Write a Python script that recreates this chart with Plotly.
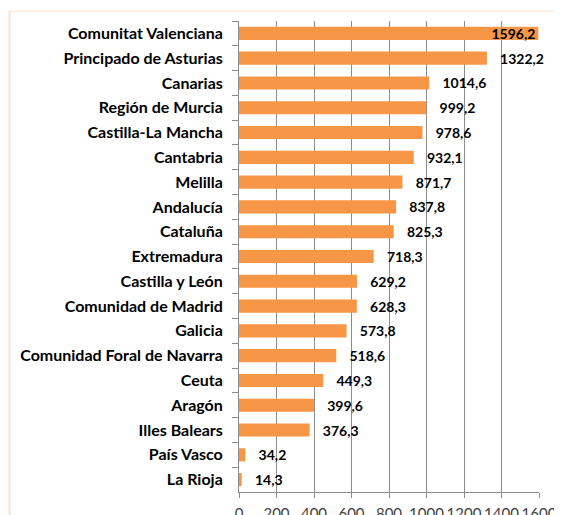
import plotly.graph_objects as go

# datos (de arriba a abajo)
regiones = ["Comunitat Valenciana", "Principado de Asturias", "Canarias", "Región de Murcia",
            "Castilla-La Mancha", "Cantabria", "Melilla", "Andalucía", "Cataluña", "Extremadura",
            "Castilla y León", "Comunidad de Madrid", "Galicia", "Comunidad Foral de Navarra",
            "Ceuta", "Aragón", "Illes Balears", "País Vasco", "La Rioja"]
valores = [1596.2, 1322.2, 1014.6, 999.2, 978.6, 932.1, 871.7, 837.8, 825.3, 718.3,
           629.2, 628.3, 573.8, 518.6, 449.3, 399.6, 376.3, 34.2, 14.3]
ticks_x = [0, 200, 400, 600, 800, 1000, 1200, 1400, 1600]

fuente = "Lato"

etiquetas = []
for v in valores:
    s = f"{v:.1f}".replace(".", ",")
    etiquetas.append(s if v > 1500 else "\u00a0\u00a0\u00a0" + s)

fig = go.Figure()
fig.add_trace(go.Bar(
    x=valores,
    y=regiones,
    orientation="h",
    marker=dict(color="#F79646", line=dict(width=0)),
    text=etiquetas,
    textposition=["inside" if v > 1500 else "outside" for v in valores],
    insidetextanchor="end",
    textfont=dict(family=fuente, size=14, color="black", weight="bold"),
    insidetextfont=dict(family=fuente, size=14, color="black", weight="bold"),
    cliponaxis=False,
    constraintext="none",
))

# la página tiene 8px de margen en el body: figura de 554x507
fig.update_layout(
    width=554, height=507,
    margin=dict(l=231, r=23, t=13, b=23),
    plot_bgcolor="white",
    paper_bgcolor="white",
    bargap=0.47,
    showlegend=False,
    font=dict(family=fuente, color="black"),
    xaxis=dict(
        range=[0, 1600],
        tickvals=ticks_x,
        ticktext=[str(t) for t in ticks_x],
        showgrid=True, gridcolor="#8c8c8c", gridwidth=1,
        showline=True, linecolor="#8c8c8c",
        ticks="outside", ticklen=5, tickcolor="#8c8c8c",
        tickfont=dict(size=15, color="#404040"),
        ticklabelstandoff=3,
        zeroline=False,
        automargin=False,
    ),
    yaxis=dict(
        autorange="reversed",
        showline=True, linecolor="#8c8c8c",
        ticks="outside", ticklen=6, tickcolor="#8c8c8c",
        tickson="boundaries",
        tickfont=dict(size=16, color="black", weight="bold"),
        ticklabelstandoff=12,
        automargin=False,
    ),
    shapes=[
        dict(type="line", xref="paper", yref="paper", x0=-0.765, x1=1.1, y0=1.021, y1=1.021,
             line=dict(color="#FCE4D0", width=1)),
        dict(type="line", xref="paper", yref="paper", x0=-0.765, x1=-0.765, y0=1.021, y1=-0.1,
             line=dict(color="#FCE4D0", width=2)),
    ],
)

fig.write_html("out.html")
